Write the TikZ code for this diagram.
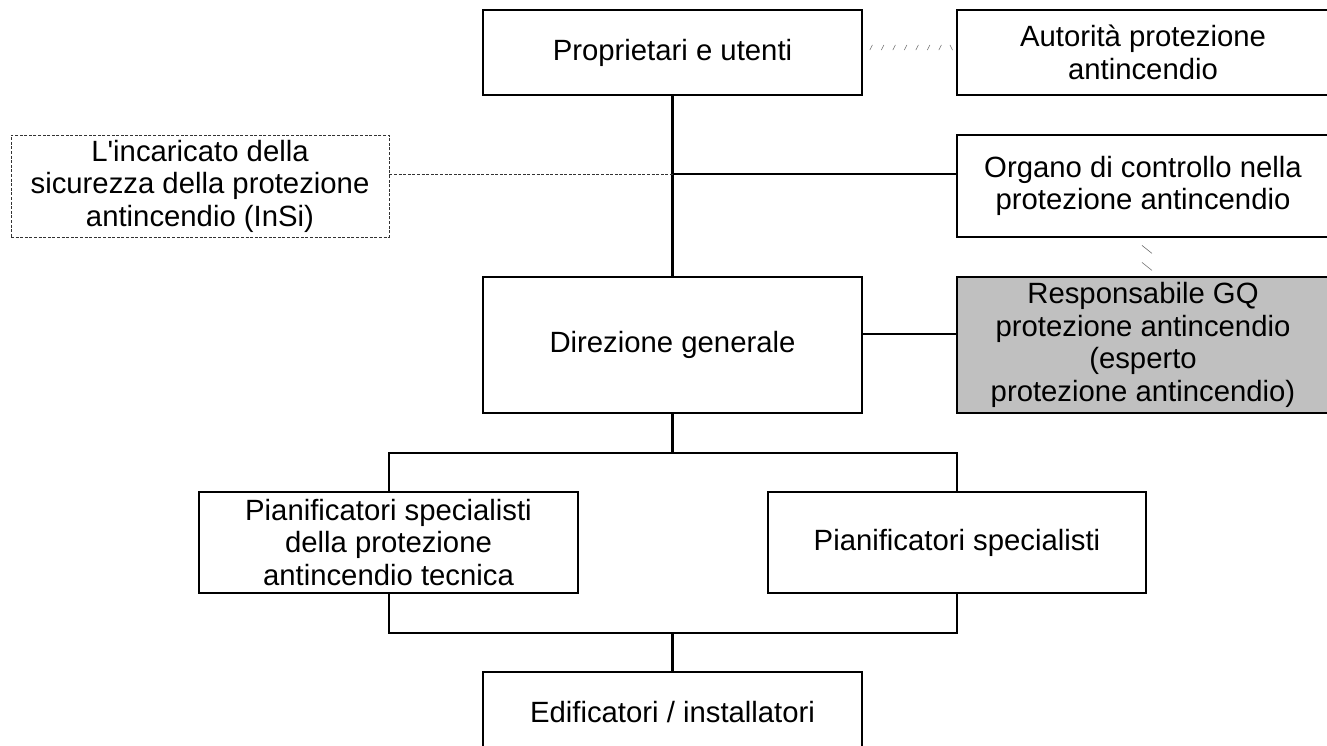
\documentclass[tikz,border=0pt]{standalone}
\usepackage{fontspec}
\setmainfont{Liberation Sans}
\usetikzlibrary{decorations.markings,backgrounds}
\definecolor{boxgray}{HTML}{C0C0C0}
\tikzset{
  orgbox/.style={draw=black, line width=2.2pt, fill=white, inner sep=0pt, align=center,
    font=\fontsize{29.3}{32.5}\selectfont},
  conn/.style={draw=black, line width=2.2pt},
  dashbox/.style={draw=black!80, line width=0.9pt, dash pattern=on 3pt off 1.6pt, fill=white,
    inner sep=0pt, align=center, font=\fontsize{29.3}{32.5}\selectfont},
  dashlink/.style={draw=black!80, line width=0.9pt, dash pattern=on 3pt off 1.6pt},
  hatchlink/.style={draw=none, postaction={decorate},
    decoration={markings,
      mark=between positions 8pt and 0.88 step 11.5pt with {\draw[black!55, line width=0.6pt] (-1.3pt,-2.6pt) -- (1.3pt,2.6pt);},
      mark=at position 0.95 with {\draw[black!55, line width=0.6pt] (-1.3pt,2.6pt) -- (1.3pt,-2.6pt);}}},
  ticklink/.style={draw=none, postaction={decorate},
    decoration={markings,
      mark=at position 0.3 with {\draw[black!55, line width=0.6pt] (-4pt,-5pt) -- (4pt,5pt);},
      mark=at position 0.75 with {\draw[black!55, line width=0.6pt] (-4pt,-5pt) -- (4pt,5pt);}}}
}
\begin{document}
\begin{tikzpicture}[x=1pt,y=-1pt]
\useasboundingbox (0,0) rectangle (1327,745);
\node[orgbox, minimum width=379pt, minimum height=85pt] (prop) at (672.5,52.5) {Proprietari e utenti};
\node[orgbox, minimum width=372pt, minimum height=85pt] (aut) at (1143,52.5) {Autorità protezione\\antincendio};
\node[dashbox, minimum width=378pt, minimum height=102pt] (insi) at (200,186) {L\textquotesingle incaricato della\\sicurezza della protezione\\antincendio (InSi)};
\node[orgbox, minimum width=372pt, minimum height=102pt] (org) at (1143,186) {Organo di controllo nella\\protezione antincendio};
\node[orgbox, minimum width=379pt, minimum height=136pt] (dir) at (672.5,345) {Direzione generale};
\node[orgbox, fill=boxgray, minimum width=372pt, minimum height=136pt] (resp) at (1143,345) {Responsabile GQ\\protezione antincendio\\(esperto\\protezione antincendio)};
\node[orgbox, minimum width=379pt, minimum height=101pt] (pianA) at (388.5,542.5) {Pianificatori specialisti\\della protezione\\antincendio tecnica};
\node[orgbox, minimum width=378pt, minimum height=101pt] (pianB) at (957,542.5) {Pianificatori specialisti};
\node[orgbox, minimum width=379pt, minimum height=80pt] (edi) at (672.5,712) {Edificatori / installatori};
\coordinate (j1) at (672.5,174);
\coordinate (b1) at (389,453);
\coordinate (b2) at (957,633);
\begin{pgfonlayer}{background}
\draw[conn] (prop.south) -- (dir.north);
\draw[dashlink] (insi.east |- j1) -- (j1);
\draw[conn] (j1) -- (org.west |- j1);
\draw[conn] ([yshift=11pt]dir.east) -- ([yshift=11pt]resp.west);
\draw[conn] (dir.south) -- (dir.south |- b1);
\draw[conn] (b1) rectangle (b2);
\draw[conn] (edi.north |- b2) -- (edi.north);
\end{pgfonlayer}
\path[hatchlink] ([yshift=5pt]prop.east) -- ([yshift=5pt]aut.west);
\path[ticklink] ([xshift=4pt]org.south) -- ([xshift=4pt]resp.north);
\end{tikzpicture}
\end{document}
